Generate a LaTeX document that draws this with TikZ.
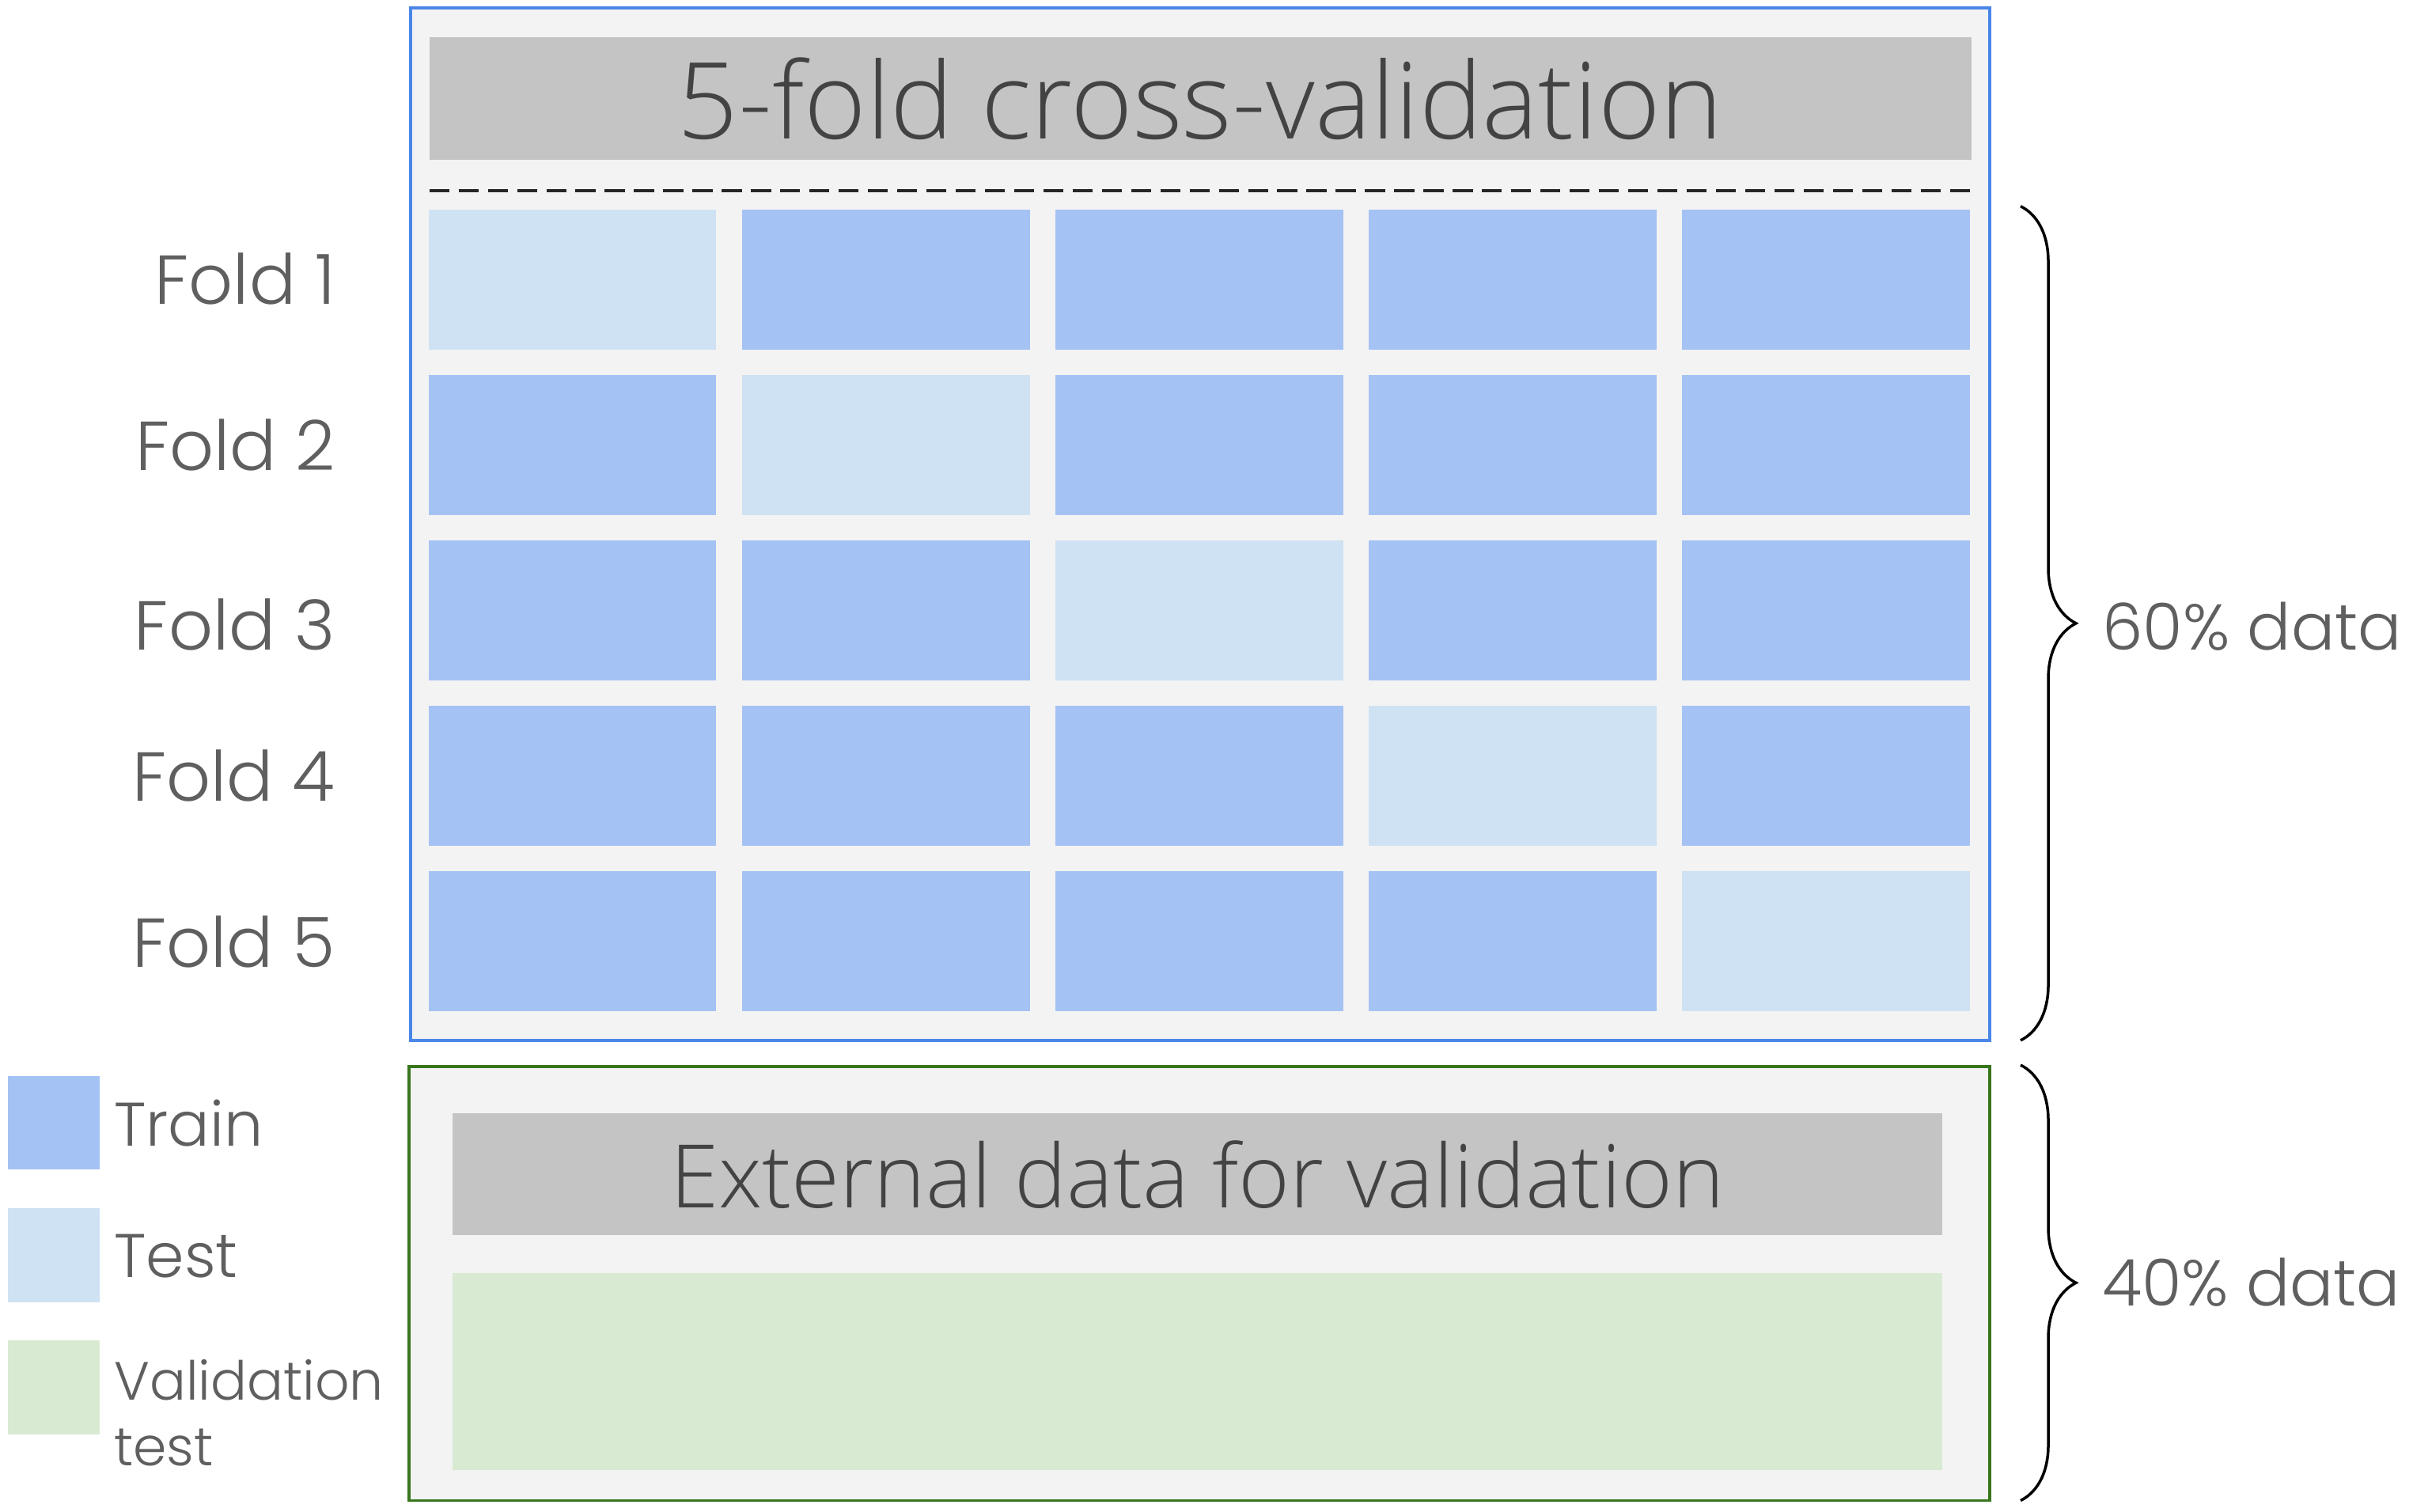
\documentclass[tikz,border=0pt]{standalone}
\usepackage{fontspec}
\IfFontExistsTF{Poppins Light}{\newfontfamily\labfont{Poppins Light}}{\newfontfamily\labfont{Poppins}}
\IfFontExistsTF{Open Sans Light}{\newfontfamily\headfont{Open Sans Light}}{\newfontfamily\headfont{Open Sans}}
\setmainfont{Poppins}
\usetikzlibrary{decorations.pathreplacing}
\definecolor{train}{HTML}{A4C2F4}
\definecolor{testc}{HTML}{CFE2F3}
\definecolor{valc}{HTML}{D9EAD3}
\definecolor{panel}{HTML}{F3F3F3}
\definecolor{hdr}{HTML}{C4C4C4}
\definecolor{hdrtext}{HTML}{434343}
\definecolor{labtext}{HTML}{5F5F5F}
\definecolor{blueline}{HTML}{4A86E8}
\definecolor{greenline}{HTML}{38761D}
\tikzset{
  cellbox/.style={minimum width=187pt, minimum height=91pt, inner sep=0pt, draw=none},
  hdrbox/.style={fill=hdr, inner sep=0pt, text=hdrtext},
  foldlab/.style={anchor=east, inner sep=0pt, text=labtext, font=\labfont\fontsize{45}{52}\selectfont},
  sidelab/.style={anchor=west, inner sep=0pt, text=labtext, font=\labfont\fontsize{42}{50}\selectfont},
  legsq/.style={minimum width=60pt, minimum height=61pt, inner sep=0pt},
  leglab/.style={anchor=west, inner sep=0pt, text=labtext, font=\labfont\fontsize{40}{48}\selectfont},
  bracepath/.style={decorate, decoration={brace, amplitude=36pt}, line width=1.8pt, black},
}
\begin{document}
\begin{tikzpicture}[x=1pt, y=-1pt]
\useasboundingbox (0,0) rectangle (1568,982);
\fill[white] (0,0) rectangle (1568,982);

% upper panel
\node[draw=blueline, line width=2pt, fill=panel, minimum width=1026pt, minimum height=671pt, inner sep=0pt] (cvbox) at (780,340.5) {};
\node[hdrbox, minimum width=1002pt, minimum height=80pt, font=\headfont\fontsize{69}{76}\selectfont] (cvhead) at (780,64) {5-fold cross-validation};
\coordinate (dashL) at (279,124);
\coordinate (dashR) at (1283,124);
\draw[dash pattern=on 13pt off 6pt, line width=2.2pt, black!85] (dashL) -- (dashR);

\foreach \r in {1,...,5}{
  \foreach \c in {1,...,5}{
    \ifnum\r=\c
      \node[cellbox, fill=testc] (cell\r\c) at ({372+(\c-1)*203.6},{181.5+(\r-1)*107.5}) {};
    \else
      \node[cellbox, fill=train] (cell\r\c) at ({372+(\c-1)*203.6},{181.5+(\r-1)*107.5}) {};
    \fi
  }
}

\node[foldlab] (f1) at (218,181) {Fold 1};
\node[foldlab] (f2) at (218,289) {Fold 2};
\node[foldlab] (f3) at (218,406) {Fold 3};
\node[foldlab] (f4) at (218,504) {Fold 4};
\node[foldlab] (f5) at (218,612) {Fold 5};

% lower panel
\node[draw=greenline, line width=2pt, fill=panel, minimum width=1027pt, minimum height=282pt, inner sep=0pt] (extbox) at (779.5,834) {};
\node[hdrbox, minimum width=968pt, minimum height=79pt, font=\headfont\fontsize{57}{64}\selectfont] (exthead) at (778,763) {External data for validation};
\node[fill=valc, minimum width=968pt, minimum height=128pt, inner sep=0pt] (valblock) at (778,891) {};

% braces
\coordinate (b1t) at (1313,134);
\coordinate (b1b) at (1313,676);
\coordinate (b2t) at (1313,692);
\coordinate (b2b) at (1313,975);
\draw[bracepath] (b1t) -- (b1b);
\draw[bracepath] (b2t) -- (b2b);
\node[sidelab] (p60) at (1366,407) {60\% data};
\node[sidelab] (p40) at (1366,833) {40\% data};

% legend
\node[legsq, fill=train] (lgtrain) at (35,729.5) {};
\node[legsq, fill=testc] (lgtest) at (35,815.5) {};
\node[legsq, fill=valc] (lgval) at (35,901.5) {};
\node[leglab] (lttrain) at (74,730) {Train};
\node[leglab] (lttest) at (74,816) {Test};
\node[leglab, align=left, font=\labfont\fontsize{35}{43}\selectfont] (ltval) at (74,918) {Validation\\test};
\end{tikzpicture}
\end{document}
